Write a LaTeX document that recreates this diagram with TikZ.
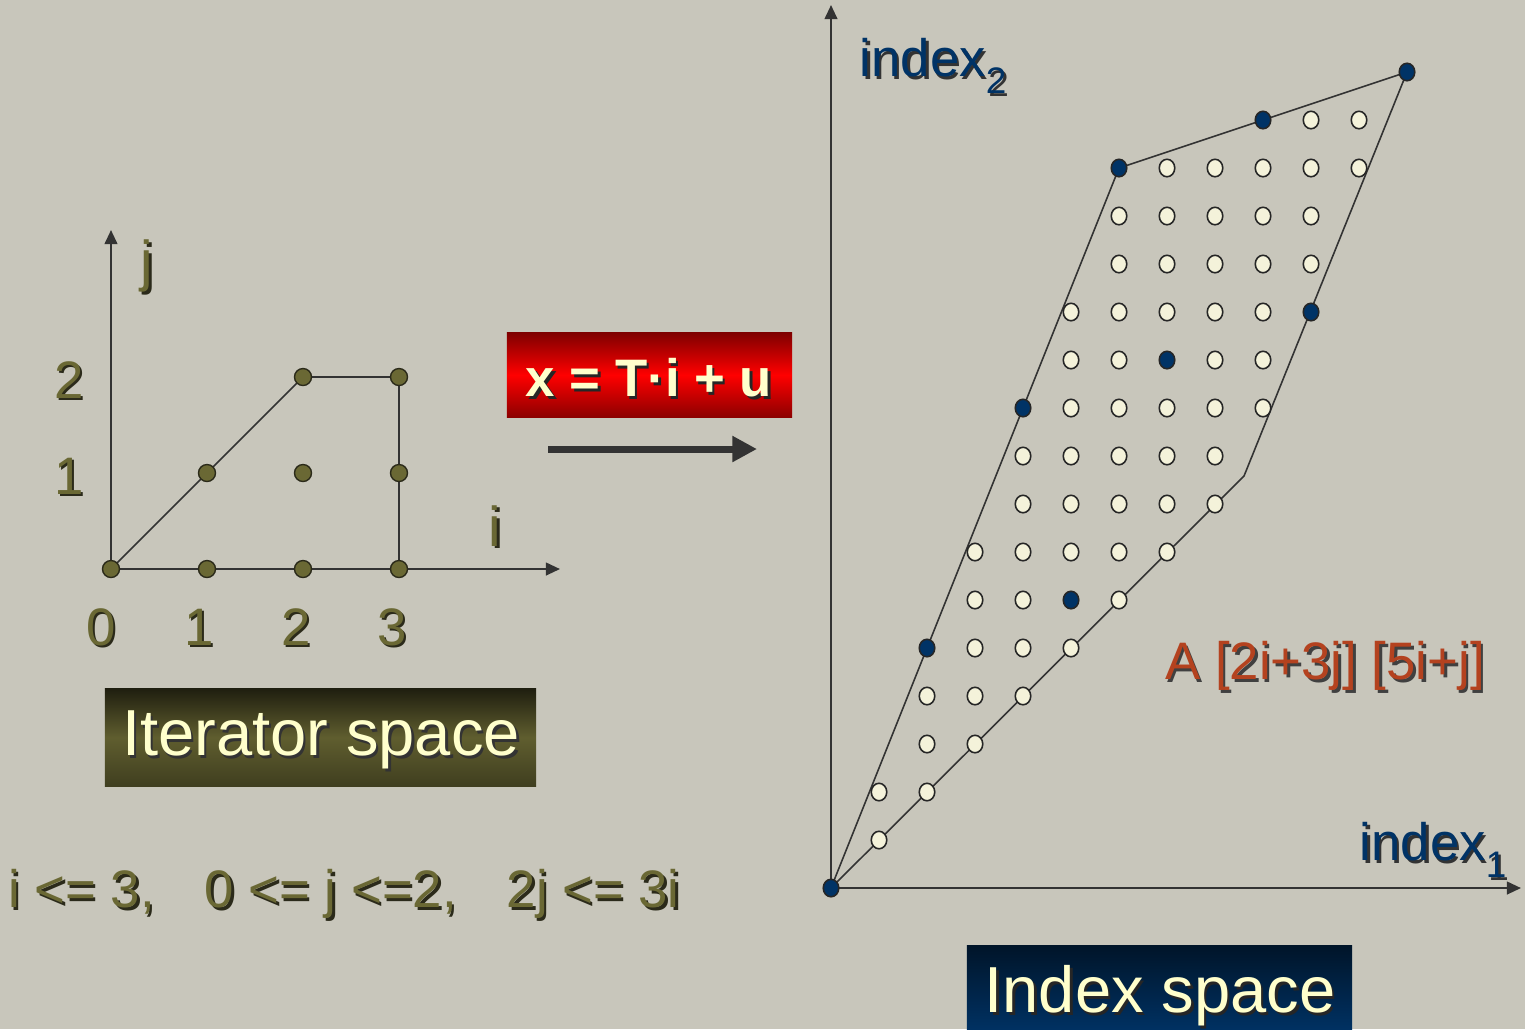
\documentclass[tikz,border=0pt]{standalone}
\usepackage{fontspec}
\setmainfont{Liberation Sans}
\usetikzlibrary{arrows.meta,calc,shapes.geometric}
\definecolor{bgc}{HTML}{C8C6BB}
\definecolor{olive}{HTML}{6A6834}
\definecolor{oliveshadow}{HTML}{2B2A1A}
\definecolor{navy}{HTML}{003366}
\definecolor{cream}{HTML}{FFFFCC}
\definecolor{dotcream}{HTML}{F4F2DA}
\definecolor{rust}{HTML}{B4421F}
\definecolor{linec}{HTML}{333333}
\pgfdeclarelayer{back}
\pgfdeclarelayer{lines}
\pgfsetlayers{back,lines,main}
\newcommand\shtxt[5]{%
  \node[#3, text=#4] (#1-sh) at ($(#2)+(2.5,2.5)$) {#5};
  \node[#3] (#1) at (#2) {#5};
}
\newcommand\lowsub[1]{\raisebox{-0.32em}{\fontsize{10.5pt}{12pt}\selectfont #1}}
\tikzset{
  axisline/.style={draw=linec, line width=0.6pt, -{Triangle[length=4pt,width=3.6pt]}},
  poly/.style={draw=linec, line width=0.45pt},
  odot/.style={circle, draw=oliveshadow, fill=olive, line width=0.4pt, minimum size=0.17cm, inner sep=0pt},
  ldot/.style={ellipse, draw=black!85, fill=dotcream, line width=0.45pt, minimum width=0.155cm, minimum height=0.175cm, inner sep=0pt},
  ndot/.style={ellipse, draw=black!85, fill=navy, line width=0.45pt, minimum width=0.155cm, minimum height=0.175cm, inner sep=0pt},
  olivetxt/.style={text=olive, inner sep=0pt, font=\fontsize{15pt}{18pt}\selectfont},
  bigolive/.style={text=olive, inner sep=0pt, font=\fontsize{16pt}{19pt}\selectfont},
  navytxt/.style={text=navy, inner sep=0pt, font=\fontsize{15pt}{18pt}\selectfont},
  rusttxt/.style={text=rust, inner sep=0pt, font=\fontsize{15pt}{18pt}\selectfont},
  boxtxt/.style={text=cream, inner sep=0pt, font=\fontsize{18.5pt}{22pt}\selectfont},
  redtxt/.style={text=cream, inner sep=0pt, font=\bfseries\fontsize{15pt}{18pt}\selectfont},
}
\begin{document}
\begin{tikzpicture}[x=0.01cm,y=-0.01cm]
\begin{pgfonlayer}{back}
\fill[bgc] (0,0) rectangle (1525,1029);
\end{pgfonlayer}
\useasboundingbox (0,0) rectangle (1525,1029);

% ---------------- Iterator space ----------------
\foreach \i/\j in {0/0,1/0,2/0,3/0,1/1,2/1,3/1,2/2,3/2}
  \node[odot] (p\i-\j) at ({111+96*\i},{569-96*\j}) {};
\coordinate (jtip) at (111,230);
\coordinate (itip) at (560,569);
\begin{pgfonlayer}{lines}
\draw[axisline] (p0-0.center) -- (jtip);
\draw[axisline] (p0-0.center) -- (itip);
\draw[poly] (p0-0.center) -- (p1-1.center) -- (p2-2.center) -- (p3-2.center) -- (p3-1.center) -- (p3-0.center);
\end{pgfonlayer}

\shtxt{jlab}{147,266}{bigolive}{oliveshadow}{j}
\shtxt{ilab}{495,526}{bigolive}{oliveshadow}{i}
\shtxt{y2}{69,380}{olivetxt}{oliveshadow}{2}
\shtxt{y1}{69,476}{olivetxt}{oliveshadow}{1}
\shtxt{x0}{101,627}{olivetxt}{oliveshadow}{0}
\shtxt{x1}{199,627}{olivetxt}{oliveshadow}{1}
\shtxt{x2}{296,627}{olivetxt}{oliveshadow}{2}
\shtxt{x3}{392,627}{olivetxt}{oliveshadow}{3}

\node[minimum width=4.31cm, minimum height=0.97cm, inner sep=0pt,
      top color=black!70!olive, bottom color=black!40!olive, middle color=black!10!olive] (itbox) at (320.5,737.5) {};
\shtxt{itlab}{321,740}{boxtxt}{black!80}{Iterator space}

\shtxt{cons}{344,894}{olivetxt}{oliveshadow}{i <= 3,\hspace{10pt} 0 <= j <=2,\hspace{10pt} 2j <= 3i}

% ---------------- transform ----------------
\node[minimum width=2.85cm, minimum height=0.84cm, inner sep=0pt,
      top color=red!50!black, bottom color=red!55!black, middle color=red] (tbox) at (649.5,375) {};
\shtxt{tlab}{649,378}{redtxt}{black!85}{x = T·i + u}
\coordinate (astart) at (548,449);
\coordinate (aend) at (757,449);
\draw[draw=linec, line width=2pt, -{Triangle[length=7pt,width=7pt]}] (astart) -- (aend);

% ---------------- Index space ----------------
\foreach \k/\m in {10/16,11/16,7/15,8/15,9/15,10/15,11/15,
  6/14,7/14,8/14,9/14,10/14,6/13,7/13,8/13,9/13,10/13,
  5/12,6/12,7/12,8/12,9/12,5/11,6/11,8/11,9/11,
  5/10,6/10,7/10,8/10,9/10,4/9,5/9,6/9,7/9,8/9,4/8,5/8,6/8,7/8,8/8,
  3/7,4/7,5/7,6/7,7/7,3/6,4/6,6/6,3/5,4/5,5/5,2/4,3/4,4/4,2/3,3/3,1/2,2/2,1/1}
  \node[ldot] (d\k-\m) at ({831+48*\k},{888-48*\m}) {};
\foreach \k/\m in {0/0,2/5,4/10,6/15,5/6,7/11,9/16,10/12,12/17}
  \node[ndot] (d\k-\m) at ({831+48*\k},{888-48*\m}) {};
\coordinate (kink) at (1244,476);
\coordinate (x2tip) at (831,5);
\coordinate (x1tip) at (1521,888);
\begin{pgfonlayer}{lines}
\draw[axisline] (d0-0.center) -- (x2tip);
\draw[axisline] (d0-0.center) -- (x1tip);
\draw[poly] (d0-0.center) -- (d6-15.center) -- (d12-17.center) -- (kink) -- cycle;
\end{pgfonlayer}

\shtxt{idx2}{933,66}{navytxt}{black!80}{index\lowsub{2}}
\shtxt{idx1}{1433,850}{navytxt}{black!80}{index\lowsub{1}}
\shtxt{alab}{1325,666}{rusttxt}{black!75}{A [2i+3j] [5i+j]}

\node[minimum width=3.85cm, minimum height=0.9cm, inner sep=0pt,
      top color=navy!40!black, bottom color=navy] (ixbox) at (1159.5,990) {};
\shtxt{ixlab}{1160,996}{boxtxt}{black!85}{Index space}
\end{tikzpicture}
\end{document}
